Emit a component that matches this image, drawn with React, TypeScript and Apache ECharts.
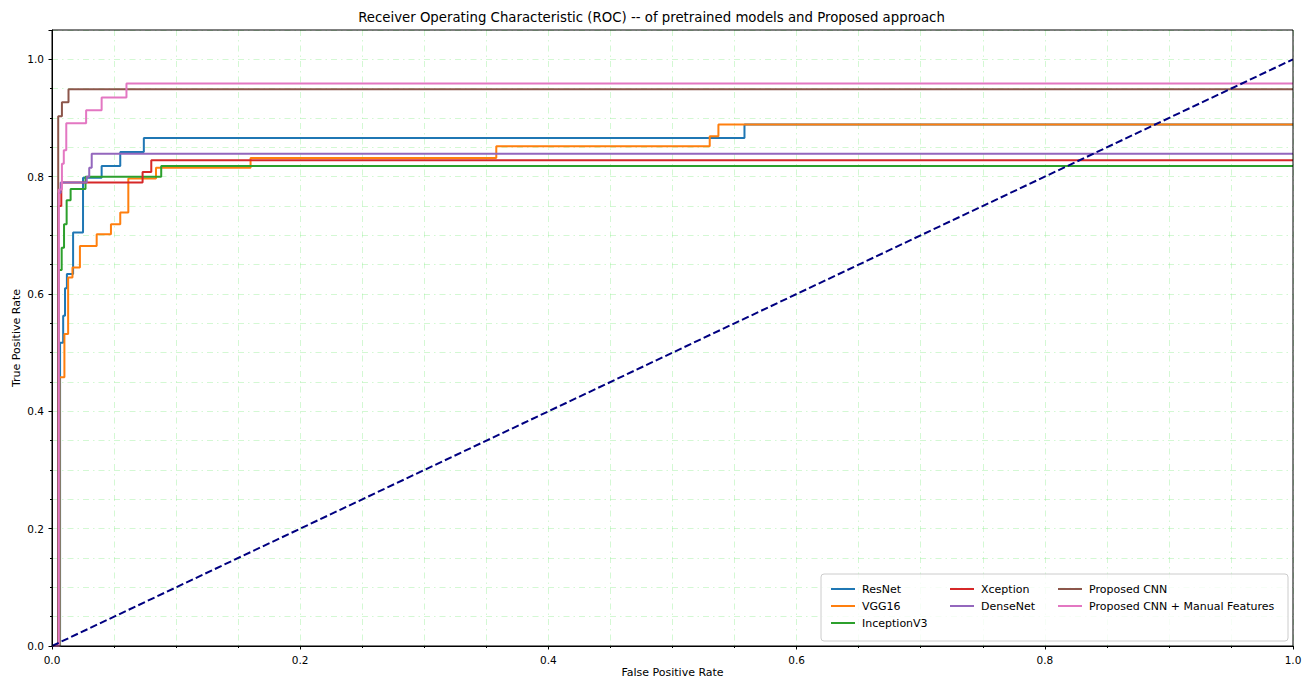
import React, { useEffect, useRef } from "react";
import * as echarts from "echarts";

const TITLE = "Receiver Operating Characteristic (ROC) -- of pretrained models and Proposed approach";
const X_NAME = "False Positive Rate";
const Y_NAME = "True Positive Rate";

const modelNames = [
  "ResNet",
  "VGG16",
  "InceptionV3",
  "Xception",
  "DenseNet",
  "Proposed CNN",
  "Proposed CNN + Manual Features",
];
const modelColors = ["#1f77b4", "#ff7f0e", "#2ca02c", "#d62728", "#9467bd", "#8c564b", "#e377c2"];

const resnetFpr = [0, 0.0065, 0.0065, 0.009, 0.009, 0.0105, 0.0105, 0.012, 0.012, 0.017, 0.017, 0.025, 0.025, 0.040, 0.040, 0.055, 0.055, 0.074, 0.074, 0.558, 0.558, 1];
const resnetTpr = [0, 0, 0.517, 0.517, 0.563, 0.563, 0.610, 0.610, 0.634, 0.634, 0.705, 0.705, 0.798, 0.798, 0.818, 0.818, 0.842, 0.842, 0.866, 0.866, 0.889, 0.889];

const vggFpr = [0, 0.006, 0.006, 0.010, 0.010, 0.013, 0.013, 0.0165, 0.0165, 0.0225, 0.0225, 0.036, 0.036, 0.0475, 0.0475, 0.055, 0.055, 0.0615, 0.0615, 0.0838, 0.0838, 0.160, 0.160, 0.358, 0.358, 0.530, 0.530, 0.537, 0.537, 1];
const vggTpr = [0, 0, 0.458, 0.458, 0.532, 0.532, 0.628, 0.628, 0.645, 0.645, 0.682, 0.682, 0.702, 0.702, 0.719, 0.719, 0.739, 0.739, 0.797, 0.797, 0.815, 0.815, 0.832, 0.832, 0.852, 0.852, 0.869, 0.869, 0.889, 0.889];

const inceptionFpr = [0, 0.0055, 0.0055, 0.0078, 0.0078, 0.0097, 0.0097, 0.0118, 0.0118, 0.015, 0.015, 0.027, 0.027, 0.088, 0.088, 1];
const inceptionTpr = [0, 0, 0.641, 0.641, 0.679, 0.679, 0.719, 0.719, 0.760, 0.760, 0.779, 0.779, 0.800, 0.800, 0.818, 0.818];

const xceptionFpr = [0, 0.005, 0.005, 0.0075, 0.0075, 0.073, 0.073, 0.080, 0.080, 1];
const xceptionTpr = [0, 0, 0.750, 0.750, 0.790, 0.790, 0.808, 0.808, 0.828, 0.828];

const densenetFpr = [0, 0.005, 0.005, 0.007, 0.007, 0.028, 0.028, 0.030, 0.030, 0.032, 0.032, 1];
const densenetTpr = [0, 0, 0.772, 0.772, 0.790, 0.790, 0.800, 0.800, 0.815, 0.815, 0.839, 0.839];

const proposedFpr = [0, 0.005, 0.005, 0.008, 0.008, 0.0133, 0.0133, 1];
const proposedTpr = [0, 0, 0.903, 0.903, 0.927, 0.927, 0.949, 0.949];

const manualFpr = [0, 0.0055, 0.0055, 0.008, 0.008, 0.0095, 0.0095, 0.0115, 0.0115, 0.0275, 0.0275, 0.040, 0.040, 0.060, 0.060, 1];
const manualTpr = [0, 0, 0.778, 0.778, 0.822, 0.822, 0.845, 0.845, 0.891, 0.891, 0.913, 0.913, 0.935, 0.935, 0.959, 0.959];

const chanceFpr = [0, 1];
const chanceTpr = [0, 1];

const legendColumns = [
  ["ResNet", "VGG16", "InceptionV3"],
  ["Xception", "DenseNet"],
  ["Proposed CNN", "Proposed CNN + Manual Features"],
];

const FONT = "DejaVu Sans";

function zip(xs: number[], ys: number[]) {
  return xs.map((x, i) => [x, ys[i]]);
}

export default function App() {
  const ref = useRef<HTMLDivElement>(null);
  useEffect(() => {
    document.body.style.margin = "0";
    const chart = echarts.init(ref.current!, null, { renderer: "svg" });
    const curves = [
      [resnetFpr, resnetTpr],
      [vggFpr, vggTpr],
      [inceptionFpr, inceptionTpr],
      [xceptionFpr, xceptionTpr],
      [densenetFpr, densenetTpr],
      [proposedFpr, proposedTpr],
      [manualFpr, manualTpr],
    ];
    const gridStyle = { color: "rgba(144,238,144,0.4)", width: 1, type: [6, 4, 1.5, 4] as any };
    const series: any[] = curves.map((c, i) => ({
      name: modelNames[i],
      type: "line",
      data: zip(c[0], c[1]),
      showSymbol: false,
      symbol: "none",
      lineStyle: { width: 2, color: modelColors[i] },
      itemStyle: { color: modelColors[i] },
      z: 3,
    }));
    series.push({
      name: "chance",
      type: "line",
      data: zip(chanceFpr, chanceTpr),
      showSymbol: false,
      symbol: "none",
      lineStyle: { width: 2, color: "#000080", type: [7.4, 3.2] },
      itemStyle: { color: "#000080" },
      z: 4,
    });
    const legendLefts = [831, 950, 1058];
    const legends = legendColumns.map((col, i) => ({
      data: col,
      orient: "vertical",
      left: legendLefts[i],
      top: 582,
      padding: 0,
      itemGap: 3,
      itemWidth: 24,
      itemHeight: 2,
      icon: "rect",
      selectedMode: false,
      z: 200,
      textStyle: { fontFamily: FONT, fontSize: 11, color: "#000", lineHeight: 14, padding: [0, 0, 0, 2] },
    }));
    chart.setOption({
      animation: false,
      backgroundColor: "#fff",
      title: {
        text: TITLE,
        left: "center",
        top: 11,
        padding: 0,
        textStyle: { fontFamily: FONT, fontSize: 13.3, fontWeight: "normal", color: "#000" },
      },
      grid: { left: 52, right: 10, top: 30, bottom: 34, show: false, containLabel: false, outerBoundsMode: "none" },
      xAxis: {
        type: "value",
        min: 0,
        max: 1,
        interval: 0.2,
        name: X_NAME,
        nameLocation: "middle",
        nameGap: 21,
        nameMoveOverlap: false,
        nameTextStyle: { fontFamily: FONT, fontSize: 11, color: "#000" },
        axisLine: { show: true, lineStyle: { color: "#000", width: 1 } },
        axisTick: { show: true, length: 3.5, lineStyle: { color: "#000" } },
        minorTick: { show: true, splitNumber: 4, length: 2, lineStyle: { color: "#000" } },
        axisLabel: { fontFamily: FONT, fontSize: 10.5, color: "#000", margin: 8, formatter: (v: number) => v.toFixed(1) },
        splitLine: { show: true, lineStyle: gridStyle },
        minorSplitLine: { show: true, lineStyle: gridStyle },
      },
      yAxis: {
        type: "value",
        min: 0,
        max: 1.05,
        interval: 0.2,
        name: Y_NAME,
        nameLocation: "middle",
        nameGap: 30,
        nameMoveOverlap: false,
        nameTextStyle: { fontFamily: FONT, fontSize: 11, color: "#000" },
        axisLine: { show: true, lineStyle: { color: "#000", width: 1 } },
        axisTick: { show: true, length: 3.5, lineStyle: { color: "#000" } },
        minorTick: { show: true, splitNumber: 4, length: 2, lineStyle: { color: "#000" } },
        axisLabel: { fontFamily: FONT, fontSize: 10.5, color: "#000", margin: 8, showMaxLabel: false, formatter: (v: number) => v.toFixed(1) },
        splitLine: { show: true, lineStyle: gridStyle },
        minorSplitLine: { show: true, lineStyle: gridStyle },
      },
      legend: legends,
      graphic: [
        {
          type: "rect",
          z: 50,
          silent: true,
          shape: { x: 52, y: 30, width: 1241, height: 616 },
          style: { fill: "none", stroke: "#000", lineWidth: 1 },
        },
        {
          type: "rect",
          z: 100,
          shape: { x: 821, y: 574, width: 467, height: 67, r: 3 },
          style: { fill: "rgba(255,255,255,0.8)", stroke: "#cccccc", lineWidth: 1 },
        },
      ],
      series,
    });
    return () => chart.dispose();
  }, []);
  return <div ref={ref} style={{ width: 1303, height: 680 }} />;
}
